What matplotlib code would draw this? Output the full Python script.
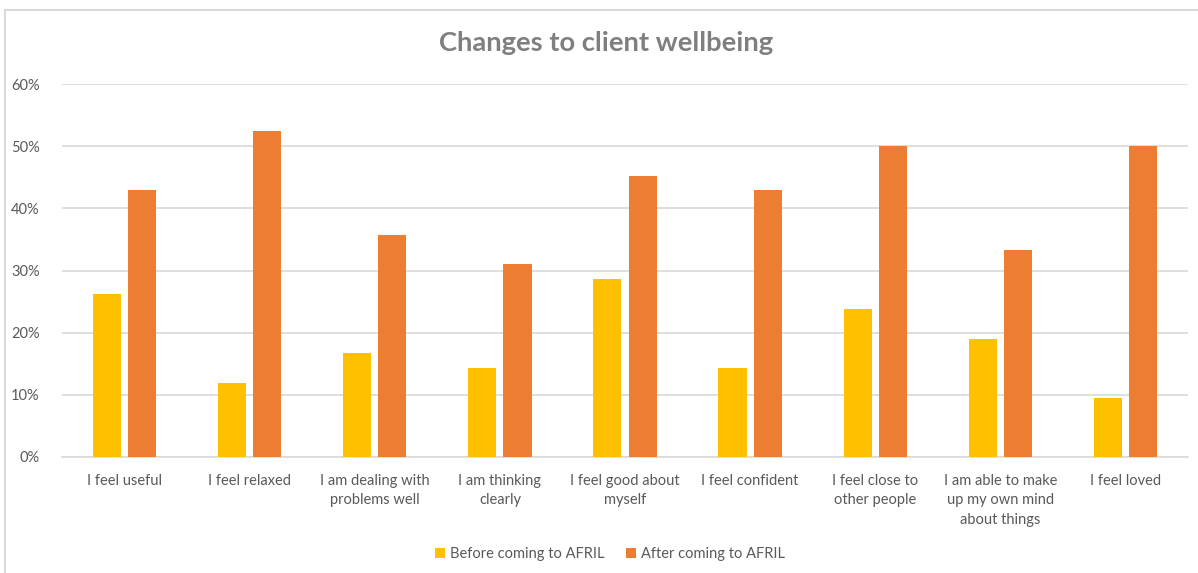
import matplotlib.pyplot as plt
import numpy as np
from matplotlib.lines import Line2D
from matplotlib.ticker import PercentFormatter

plt.rcParams['font.family'] = ['Lato', 'DejaVu Sans']

categories = [
    'I feel useful',
    'I feel relaxed',
    'I am dealing with\nproblems well',
    'I am thinking\nclearly',
    'I feel good about\nmyself',
    'I feel confident',
    'I feel close to\nother people',
    'I am able to make\nup my own mind\nabout things',
    'I feel loved',
]
before = [26.2, 11.9, 16.7, 14.3, 28.6, 14.3, 23.8, 19.0, 9.5]
after = [42.9, 52.4, 35.7, 31.0, 45.2, 42.9, 50.0, 33.3, 50.0]
series_labels = ['Before coming to AFRIL', 'After coming to AFRIL']
yticks = [0, 10, 20, 30, 40, 50, 60]

YELLOW = '#FFC000'
ORANGE = '#ED7D31'
TEXT = '#595959'

fig = plt.figure(figsize=(11.98, 5.73), dpi=100)
ax = fig.add_axes([62 / 1198, 1 - 457 / 573, (1188 - 62) / 1198, (457 - 84) / 573])

x = np.arange(len(categories))
w = 0.225
off = w / 2 + 0.028
ax.bar(x - off, before, w, color=YELLOW, label=series_labels[0], zorder=3)
ax.bar(x + off, after, w, color=ORANGE, label=series_labels[1], zorder=3)

ax.set_xlim(-0.5, len(categories) - 0.5)
ax.set_ylim(0, 60)
ax.set_yticks(yticks)
ax.yaxis.set_major_formatter(PercentFormatter(decimals=0))
ax.grid(axis='y', color='#d9d9d9', lw=1.2, zorder=0)
ax.set_xticks(x)
ax.set_xticklabels(categories, fontsize=10.5, color=TEXT, linespacing=1.5, va='top')
ax.tick_params(axis='both', length=0, colors=TEXT, labelsize=10.5)
ax.tick_params(axis='x', pad=12)
ax.tick_params(axis='y', pad=16)
for s in ['top', 'right', 'left']:
    ax.spines[s].set_visible(False)
ax.spines['bottom'].set_color('#d9d9d9')
ax.spines['bottom'].set_linewidth(1.2)

fig.text(606 / 1198, 1 - 43 / 573, 'Changes to client wellbeing', ha='center', va='center',
         fontsize=19.7, fontweight='bold', color='#7f7f7f')

ax.legend(loc='center', bbox_to_anchor=((610 - 62) / 1126, (457 - 554) / (457 - 84)), ncol=2,
          frameon=False, fontsize=10.5, labelcolor=TEXT, handlelength=0.7, handleheight=0.7,
          handletextpad=0.3, columnspacing=1.5)

# chart frame
fig.add_artist(Line2D([5 / 1198, 5 / 1198], [0, 1 - 10 / 573], color='#d9d9d9', lw=1.5,
                      transform=fig.transFigure))
fig.add_artist(Line2D([5 / 1198, 1], [1 - 10 / 573, 1 - 10 / 573], color='#d9d9d9', lw=1.5,
                      transform=fig.transFigure))

fig.savefig('out.png', dpi=100)
